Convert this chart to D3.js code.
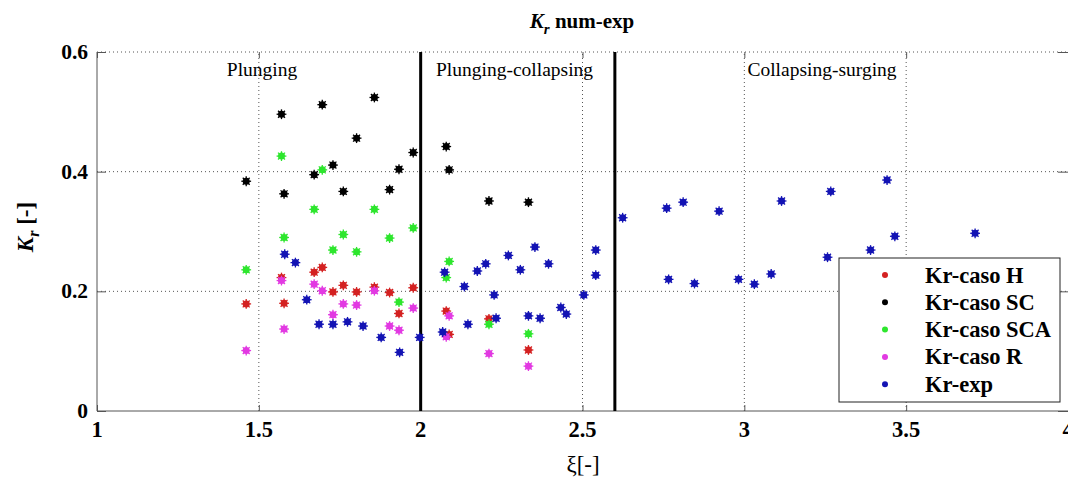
<!DOCTYPE html>
<meta charset="utf-8">
<style>

body {
  margin: 0;
  background: #fff;
}

.grid line {
  stroke: #555;
  stroke-width: 1px;
  stroke-dasharray: 1, 3;
}

.axis path, .axis line {
  stroke: #555;
  fill: none;
}

.tick-label {
  font-family: "Liberation Serif", "Times New Roman", serif;
  font-weight: bold;
  fill: #000;
}

.region {
  font-family: "Liberation Serif", "Times New Roman", serif;
  font-size: 19.5px;
  fill: #000;
}

.divider {
  stroke: #000;
  stroke-width: 3px;
}

.legend-box {
  fill: #fff;
  stroke: #222;
  stroke-width: 1px;
}

.legend-text {
  font-family: "Liberation Serif", "Times New Roman", serif;
  font-weight: bold;
  font-size: 22.5px;
  fill: #000;
}

</style>
<body>
<script src="https://cdnjs.cloudflare.com/ajax/libs/d3/7.8.5/d3.min.js"></script>
<script>

// numerical cases share the same xi values
var xNum  = [1.461, 1.570, 1.578, 1.671, 1.696, 1.729, 1.761, 1.802, 1.857, 1.904, 1.933, 1.977, 2.079, 2.088, 2.211, 2.333];
var krH   = [0.179, 0.223, 0.180, 0.232, 0.240, 0.199, 0.210, 0.199, 0.207, 0.198, 0.163, 0.206, 0.167, 0.128, 0.154, 0.102];
var krSC  = [0.384, 0.496, 0.363, 0.395, 0.512, 0.411, 0.367, 0.456, 0.524, 0.370, 0.404, 0.432, 0.442, 0.403, 0.351, 0.349];
var krSCA = [0.236, 0.426, 0.290, 0.337, 0.403, 0.269, 0.295, 0.266, 0.337, 0.289, 0.182, 0.306, 0.223, 0.250, 0.145, 0.129];
var krR   = [0.101, 0.218, 0.137, 0.212, 0.201, 0.161, 0.179, 0.177, 0.201, 0.142, 0.135, 0.172, 0.124, 0.159, 0.096, 0.075];

// experimental data
var xExp  = [1.580, 1.613, 1.648, 1.686, 1.729, 1.774, 1.822, 1.878, 1.935, 1.997,
             2.068, 2.074, 2.135, 2.146, 2.175, 2.201, 2.227, 2.233, 2.271, 2.308,
             2.333, 2.353, 2.369, 2.395, 2.433, 2.450, 2.504, 2.541, 2.541, 2.624,
             2.760, 2.766, 2.811, 2.846, 2.922, 2.982, 3.031, 3.083, 3.115, 3.257,
             3.267, 3.390, 3.441, 3.465, 3.713];
var krExp = [0.262, 0.248, 0.186, 0.145, 0.145, 0.149, 0.142, 0.123, 0.098, 0.123,
             0.132, 0.232, 0.208, 0.145, 0.234, 0.246, 0.194, 0.155, 0.260, 0.236,
             0.159, 0.274, 0.155, 0.246, 0.173, 0.162, 0.194, 0.227, 0.269, 0.323,
             0.339, 0.220, 0.349, 0.213, 0.334, 0.220, 0.212, 0.229, 0.351, 0.257,
             0.367, 0.269, 0.386, 0.292, 0.297];

var seriesNames = ["Kr-caso H", "Kr-caso SC", "Kr-caso SCA", "Kr-caso R", "Kr-exp"];
var xTicks = [1, 1.5, 2, 2.5, 3, 3.5, 4];
var yTicks = [0, 0.2, 0.4, 0.6];
var dividers = [2, 2.6];
var regions = [{name: "Plunging", x: 1.51}, {name: "Plunging-collapsing", x: 2.29}, {name: "Collapsing-surging", x: 3.24}];

var colors = ["#d42222", "#000000", "#2ee62e", "#e23ae2", "#1414b4"];

var width = 1068,
    height = 477;

var x = d3.scaleLinear().domain([1, 4]).range([97, 1068]);
var y = d3.scaleLinear().domain([0, 0.6]).range([411, 52]);

var svg = d3.select("body").append("svg")
    .attr("width", width)
    .attr("height", height);

// dotted grid
var grid = svg.append("g").attr("class", "grid");
grid.selectAll(".gx")
    .data(xTicks.slice(1, -1)).enter()
    .append("line")
    .attr("x1", function(d) { return x(d); })
    .attr("x2", function(d) { return x(d); })
    .attr("y1", y(0))
    .attr("y2", y(0.6));
grid.selectAll(".gy")
    .data(yTicks.slice(1)).enter()
    .append("line")
    .attr("x1", x(1))
    .attr("x2", x(4))
    .attr("y1", function(d) { return y(d); })
    .attr("y2", function(d) { return y(d); });

// axes, ticks pointing inward
svg.append("g")
    .attr("class", "axis")
    .attr("transform", "translate(0," + y(0) + ")")
    .call(d3.axisTop(x).tickValues(xTicks).tickSize(6).tickFormat(""))
    .select(".domain").attr("d", "M" + x(1) + ",0H" + x(4));
svg.append("g")
    .attr("class", "axis")
    .attr("transform", "translate(0," + y(0.6) + ")")
    .call(d3.axisBottom(x).tickValues(xTicks).tickSize(6).tickFormat(""))
    .select(".domain").remove();
svg.append("g")
    .attr("class", "axis")
    .attr("transform", "translate(" + x(1) + ",0)")
    .call(d3.axisRight(y).tickValues(yTicks).tickSize(9).tickFormat(""))
    .select(".domain").attr("d", "M0," + y(0) + "V" + y(0.6));
svg.append("g")
    .attr("class", "axis")
    .attr("transform", "translate(" + x(4) + ",0)")
    .call(d3.axisLeft(y).tickValues(yTicks).tickSize(10).tickFormat(""))
    .select(".domain").remove();

// tick labels
svg.selectAll(".xl")
    .data(xTicks).enter()
    .append("text")
    .attr("class", "tick-label")
    .attr("x", function(d) { return x(d); })
    .attr("y", 437)
    .attr("text-anchor", "middle")
    .style("font-size", "22.5px")
    .text(function(d) { return d; });
svg.selectAll(".yl")
    .data(yTicks).enter()
    .append("text")
    .attr("class", "tick-label")
    .attr("x", 88)
    .attr("y", function(d) { return y(d) + 7; })
    .attr("text-anchor", "end")
    .style("font-size", "21.5px")
    .text(function(d) { return d; });

// regime dividers
svg.selectAll(".divider")
    .data(dividers).enter()
    .append("line")
    .attr("class", "divider")
    .attr("x1", function(d) { return x(d); })
    .attr("x2", function(d) { return x(d); })
    .attr("y1", y(0))
    .attr("y2", y(0.6));

svg.selectAll(".region")
    .data(regions).enter()
    .append("text")
    .attr("class", "region")
    .attr("x", function(d) { return x(d.x); })
    .attr("y", 76)
    .attr("text-anchor", "middle")
    .text(function(d) { return d.name; });

// markers: dot with small asterisk spikes
function marker(g, cx, cy, color, r) {
  g.append("circle")
   .attr("cx", cx).attr("cy", cy).attr("r", r)
   .attr("fill", color);
  [0, 45, 90, 135].forEach(function(a) {
    var rad = a * Math.PI / 180, l = r + 1.4;
    g.append("line")
     .attr("x1", cx - l * Math.cos(rad)).attr("y1", cy - l * Math.sin(rad))
     .attr("x2", cx + l * Math.cos(rad)).attr("y2", cy + l * Math.sin(rad))
     .attr("stroke", color).attr("stroke-width", 1.3);
  });
}

var numSeries = [krH, krSC, krSCA, krR];
var pts = svg.append("g");
numSeries.forEach(function(vals, i) {
  vals.forEach(function(v, j) {
    marker(pts, x(xNum[j]), y(v), colors[i], 3.5);
  });
});
krExp.forEach(function(v, j) {
  marker(pts, x(xExp[j]), y(v), colors[4], 3.5);
});

// legend
var legend = svg.append("g");
legend.append("rect")
    .attr("class", "legend-box")
    .attr("x", 839).attr("y", 258)
    .attr("width", 221).attr("height", 144);
seriesNames.forEach(function(name, i) {
  var ly = 275 + i * 27.3;
  legend.append("circle")
      .attr("cx", 885).attr("cy", ly).attr("r", 3)
      .attr("fill", colors[i]);
  legend.append("text")
      .attr("class", "legend-text")
      .attr("x", 925).attr("y", ly + 7.5)
      .text(name);
});

// title and axis labels
var serif = "'Liberation Serif', 'Times New Roman', serif";
var title = svg.append("text")
    .attr("x", 582).attr("y", 28)
    .attr("text-anchor", "middle")
    .style("font-family", serif)
    .style("font-weight", "bold")
    .style("font-size", "21px");
title.append("tspan").style("font-style", "italic").text("K");
title.append("tspan").style("font-style", "italic").style("font-size", "15px").attr("dy", 6).text("r");
title.append("tspan").attr("dy", -6).text(" num-exp");

var ylab = svg.append("text")
    .attr("transform", "translate(33,227) rotate(-90)")
    .attr("text-anchor", "middle")
    .style("font-family", serif)
    .style("font-weight", "bold")
    .style("font-size", "23px");
ylab.append("tspan").style("font-style", "italic").text("K");
ylab.append("tspan").style("font-style", "italic").style("font-size", "16px").attr("dy", 6).text("r");
ylab.append("tspan").attr("dy", -6).text(" [-]");

svg.append("text")
    .attr("x", 583).attr("y", 472)
    .attr("text-anchor", "middle")
    .style("font-family", serif)
    .style("font-size", "23px")
    .text("ξ[-]");

</script>
